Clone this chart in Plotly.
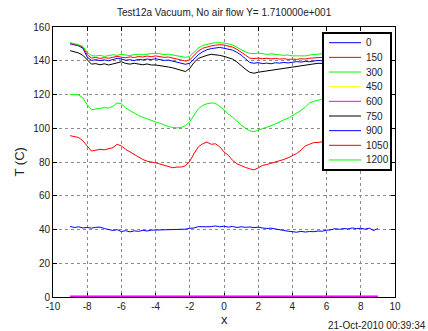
import plotly.graph_objects as go

x = [-9.00, -8.75, -8.50, -8.25, -8.00, -7.75, -7.50, -7.25, -7.00, -6.75, -6.50, -6.25,
     -6.00, -5.75, -5.50, -5.25, -5.00, -4.75, -4.50, -4.25, -4.00, -3.75, -3.50, -3.25,
     -3.00, -2.75, -2.50, -2.25, -2.00, -1.75, -1.50, -1.25, -1.00, -0.75, -0.50, -0.25,
     0.00, 0.25, 0.50, 0.75, 1.00, 1.25, 1.50, 1.75, 2.00, 2.25, 2.50, 2.75,
     3.00, 3.25, 3.50, 3.75, 4.00, 4.25, 4.50, 4.75, 5.00, 5.25, 5.50, 5.75,
     6.00, 6.25, 6.50, 6.75, 7.00, 7.25, 7.50, 7.75, 8.00, 8.25, 8.50, 8.75, 9.00]

t_0 = [150.0, 149.6, 148.8, 147.4, 142.2, 140.2, 140.6, 140.1, 140.5, 140.0, 140.9, 141.4,
       141.0, 140.3, 140.6, 140.1, 140.8, 140.5, 141.0, 140.7, 141.2, 140.6, 140.2, 140.4,
       139.8, 139.2, 138.5, 137.9, 138.6, 141.2, 143.6, 145.3, 146.5, 147.2, 147.6, 147.9,
       147.4, 147.0, 146.3, 145.0, 143.4, 141.2, 139.0, 138.5, 138.9, 138.3, 138.6, 138.2,
       138.8, 138.6, 139.0, 138.7, 139.3, 139.5, 139.2, 139.6, 139.4, 139.9, 140.2, 140.0,
       140.4, 140.2, 140.6, 140.3, 140.8, 140.5, 140.9, 140.7, 141.0, 140.8, 141.2, 141.0, 141.1]

t_150 = [150.3, 149.9, 149.2, 148.0, 143.6, 141.6, 141.9, 141.4, 141.8, 141.5, 142.2, 142.6,
         142.1, 141.8, 142.3, 141.9, 142.5, 142.2, 142.8, 142.4, 142.9, 142.5, 142.0, 142.2,
         141.6, 141.1, 140.4, 139.8, 140.5, 143.4, 145.8, 147.4, 148.3, 148.8, 149.2, 149.5,
         149.3, 148.8, 148.1, 146.8, 145.3, 143.4, 141.6, 141.3, 141.6, 141.2, 141.5, 141.1,
         141.4, 141.0, 141.2, 140.8, 141.0, 140.8, 141.2, 141.0, 141.5, 141.7, 142.0, 141.8,
         142.2, 142.0, 142.4, 142.1, 142.5, 142.3, 142.7, 142.4, 142.8, 142.6, 142.9, 142.7, 142.8]

t_300 = [150.7, 150.2, 149.5, 148.5, 145.0, 143.0, 142.8, 143.2, 142.6, 143.0, 143.6, 143.2,
         143.8, 143.4, 143.1, 143.6, 143.9, 143.5, 144.1, 144.3, 144.4, 144.0, 143.7, 143.9,
         143.4, 143.2, 142.6, 142.0, 142.6, 145.2, 147.5, 149.0, 149.8, 150.3, 150.7, 150.8,
         150.5, 150.0, 149.3, 148.0, 146.5, 145.2, 144.4, 144.2, 144.6, 144.0, 143.8, 144.1,
         143.6, 143.5, 143.2, 143.4, 142.9, 142.8, 143.1, 142.9, 143.4, 143.7, 144.0, 144.2,
         144.4, 144.1, 144.5, 144.3, 144.7, 144.4, 144.8, 144.6, 145.0, 144.7, 145.1, 144.9, 145.0]

t_450 = [0.0] * 73

t_600 = [0.0] * 73

t_750 = [146.0, 145.4, 144.6, 143.2, 140.4, 138.0, 138.3, 137.6, 138.2, 137.5, 138.1, 138.6,
         139.4, 138.4, 138.0, 138.5, 138.0, 137.6, 138.1, 137.5, 137.5, 137.2, 136.8, 136.3,
         135.8, 135.0, 134.0, 133.6, 135.5, 139.0, 141.4, 142.5, 143.2, 143.8, 143.6, 143.2,
         142.6, 142.0, 141.0, 139.3, 137.0, 135.0, 133.2, 132.6, 133.2, 133.6, 134.0, 134.3,
         134.8, 135.2, 135.6, 136.0, 136.3, 136.5, 136.9, 137.4, 137.8, 138.2, 138.5, 138.4,
         138.8, 138.6, 139.0, 138.8, 139.2, 139.0, 139.3, 139.1, 139.5, 139.2, 139.6, 139.4, 139.5]

t_900 = [41.8, 41.2, 41.6, 40.9, 41.2, 40.8, 41.3, 41.4, 40.6, 40.1, 39.4, 39.9,
         38.8, 39.3, 38.6, 39.2, 38.9, 39.5, 39.1, 39.6, 39.7, 39.4, 39.9, 39.6,
         40.1, 39.8, 40.3, 40.2, 40.7, 40.9, 41.7, 41.5, 41.6, 41.7, 42.1, 41.6,
         42.0, 41.4, 41.8, 41.2, 41.6, 41.3, 41.5, 41.1, 41.4, 40.9, 40.6, 40.8,
         40.2, 39.7, 39.4, 39.0, 38.6, 38.4, 38.9, 38.5, 38.8, 38.7, 39.1, 39.0,
         39.6, 39.8, 40.5, 40.1, 40.6, 40.3, 40.9, 40.5, 40.7, 40.2, 40.8, 39.4, 40.6]

t_1050 = [95.6, 95.0, 94.5, 92.5, 89.5, 86.5, 87.0, 87.5, 87.2, 88.0, 88.5, 90.5,
          89.5, 87.5, 86.0, 84.0, 82.8, 81.5, 80.5, 80.2, 79.5, 78.8, 78.0, 77.5,
          76.6, 77.0, 77.0, 77.8, 80.5, 85.0, 89.0, 90.8, 91.8, 90.5, 90.8, 89.0,
          86.0, 84.0, 81.0, 79.0, 77.8, 76.8, 76.0, 75.3, 76.5, 78.0, 78.5, 79.2,
          80.0, 80.6, 81.5, 82.5, 83.8, 85.0, 87.0, 89.5, 90.5, 91.5, 91.6, 92.0,
          92.4, 92.2, 92.6, 92.5, 92.9, 92.7, 93.0, 92.8, 93.2, 93.0, 93.3, 93.1, 93.2]

t_1200 = [120.0, 120.0, 119.8, 118.0, 114.0, 111.0, 111.5, 112.0, 112.2, 112.0, 113.0, 115.0,
          114.5, 112.0, 110.5, 108.5, 107.5, 106.5, 105.5, 104.5, 103.8, 103.0, 102.0, 101.0,
          100.5, 100.2, 100.5, 101.5, 104.0, 108.0, 111.5, 113.5, 114.5, 115.0, 114.8, 113.0,
          110.5, 108.5, 106.5, 104.0, 102.0, 100.0, 98.5, 98.0, 98.8, 100.0, 100.8, 101.5,
          102.5, 104.0, 105.0, 106.0, 107.5, 108.8, 110.5, 112.5, 115.0, 116.0, 116.8, 117.2,
          117.5, 117.3, 117.8, 117.6, 118.0, 117.8, 118.2, 118.0, 118.3, 118.1, 118.4, 118.2, 118.3]

series_names = ["0", "150", "300", "450", "600", "750", "900", "1050", "1200"]
series_values = [t_0, t_150, t_300, t_450, t_600, t_750, t_900, t_1050, t_1200]
series_colors = ["#0000ff", "#ff0000", "#00ff00", "#ffff00", "#ff00ff",
                 "#000000", "#0000ff", "#ff0000", "#00ff00"]
# traces lying on the bottom axis are half clipped by the plot area, so drawn wider
series_widths = [1, 1, 1, 3, 3, 1, 1, 1, 1]

x_ticks = [-10, -8, -6, -4, -2, 0, 2, 4, 6, 8, 10]
x_ticktext = ["-10", "-8", "-6", "-4", "-2", "0", "2", "4", "6", "8", "10"]
y_ticks = [0, 20, 40, 60, 80, 100, 120, 140, 160]

# plot area geometry (pixels) used to place the legend box in paper coordinates
W, H = 428, 331
ML, MR, MT, MB = 53, 33, 27, 34
PW, PH = W - ML - MR, H - MT - MB


def px_to_paper_x(px):
    return (px - ML) / PW


def px_to_paper_y(py):
    return (H - MB - py) / PH


fig = go.Figure()
for name, vals, col, wd in zip(series_names, series_values, series_colors, series_widths):
    fig.add_trace(go.Scatter(x=x, y=vals, mode="lines", name=name,
                             line=dict(color=col, width=wd), showlegend=False))

font_family = "Liberation Sans, Arial, sans-serif"
axis_common = dict(showline=True, linecolor="black", linewidth=1, mirror="ticks",
                   ticks="inside", ticklen=4, tickcolor="black", layer="below traces",
                   showgrid=True, gridcolor="#8c8c8c", griddash="dot", gridwidth=1,
                   zeroline=False, tickfont=dict(family=font_family, size=10, color="#222"))

# custom legend (box, sample lines, labels)
leg_left, leg_right, leg_top, leg_bottom = 323, 391, 33, 170
shapes = [dict(type="rect", xref="paper", yref="paper",
               x0=px_to_paper_x(leg_left), x1=px_to_paper_x(leg_right),
               y0=px_to_paper_y(leg_bottom), y1=px_to_paper_y(leg_top),
               line=dict(color="black", width=2), fillcolor="white", layer="above")]
annotations = []
first_y, step_y = 42.7, 14.66
for i, (name, col) in enumerate(zip(series_names, series_colors)):
    py = first_y + i * step_y
    shapes.append(dict(type="line", xref="paper", yref="paper",
                       x0=px_to_paper_x(329), x1=px_to_paper_x(361),
                       y0=px_to_paper_y(py), y1=px_to_paper_y(py),
                       line=dict(color=col, width=1), layer="above"))
    annotations.append(dict(text=name, xref="paper", yref="paper",
                            x=px_to_paper_x(363.5), y=px_to_paper_y(py),
                            xanchor="left", yanchor="middle", showarrow=False,
                            font=dict(size=10)))

annotations += [
    dict(text="Test12a Vacuum, No air flow Y= 1.710000e+001", xref="paper", yref="paper",
         x=0.5, y=1.052, xanchor="center", yanchor="middle", showarrow=False,
         font=dict(size=10)),
    dict(text="x", xref="paper", yref="paper", x=0.5, y=-0.085,
         xanchor="center", yanchor="middle", showarrow=False, font=dict(size=13)),
    dict(text="T (C)", xref="paper", yref="paper", x=-0.098, y=0.5,
         xanchor="center", yanchor="middle", showarrow=False, textangle=-90,
         font=dict(size=13)),
    dict(text="21-Oct-2010 00:39:34", xref="paper", yref="paper", x=1.0965, y=-0.104,
         xanchor="right", yanchor="middle", showarrow=False, font=dict(size=10)),
]

fig.update_layout(
    width=W, height=H,
    margin=dict(l=ML, r=MR, t=MT, b=MB),
    paper_bgcolor="white", plot_bgcolor="white",
    font=dict(family=font_family, size=10, color="#222"),
    xaxis=dict(range=[-10, 10], tickvals=x_ticks, ticktext=x_ticktext, **axis_common),
    yaxis=dict(range=[0, 160], tickvals=y_ticks, **axis_common),
    showlegend=False,
    shapes=shapes,
    annotations=annotations,
)

fig.write_html("out.html")
